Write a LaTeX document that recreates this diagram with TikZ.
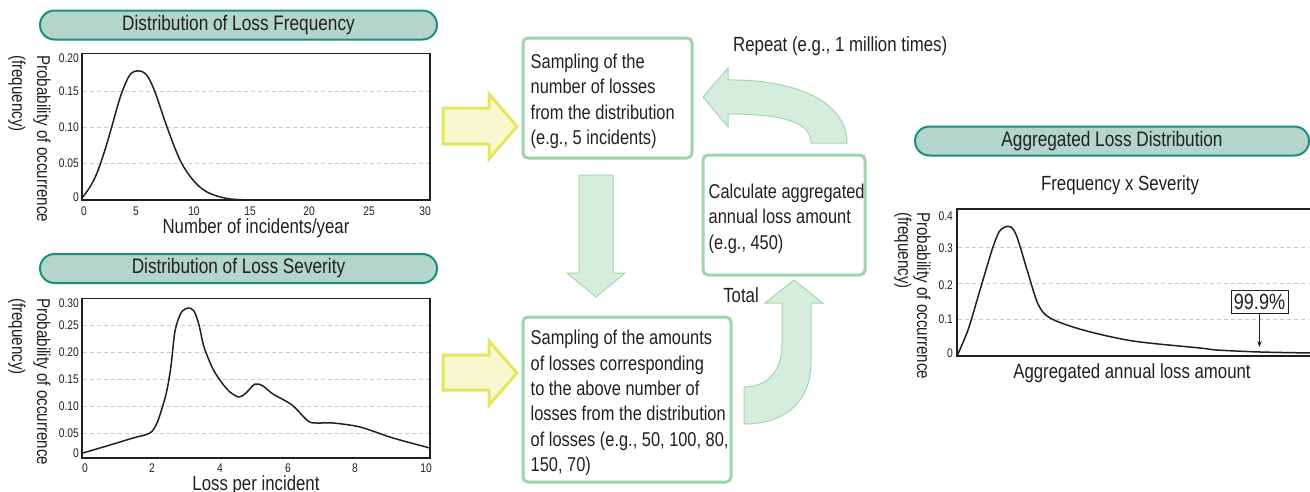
\documentclass[tikz,border=0pt]{standalone}
\usepackage{fontspec}
\setmainfont{Liberation Sans}[FakeStretch=0.82]
\usetikzlibrary{arrows.meta}

\definecolor{ink}{HTML}{231F20}
\definecolor{pillfill}{HTML}{B4D5C9}
\definecolor{pillline}{HTML}{1A8F7E}
\definecolor{boxline}{HTML}{9DD5AA}
\definecolor{yelline}{HTML}{E6E65E}
\definecolor{yelfill}{HTML}{F7F8CE}
\definecolor{grnfill}{HTML}{D6ECDC}
\definecolor{grnline}{HTML}{A5D7AF}
\definecolor{gridcol}{HTML}{CBCBCB}

\begin{document}
\begin{tikzpicture}[x=1pt,y=-1pt,
  every node/.style={text=ink, inner sep=0pt},
  pill/.style={draw=pillline, fill=pillfill, line width=2pt, rounded corners=14.5pt,
    minimum height=29pt, font=\fontsize{21}{24}\selectfont},
  stepbox/.style={draw=boxline, line width=3pt, rounded corners=5pt},
  steptext/.style={anchor=west, align=left, yshift=-3.5pt, font=\fontsize{20}{25.4}\selectfont},
  label/.style={font=\fontsize{20.5}{24}\selectfont},
  ylab/.style={rotate=-90, anchor=west, font=\fontsize{18.5}{22}\selectfont},
  tick/.style={font=\fontsize{12.5}{14}\selectfont},
  ytick/.style={tick, anchor=east},
  frame/.style={draw=ink, line width=1.2pt},
  grid/.style={draw=gridcol, line width=0.8pt, dash pattern=on 4pt off 3pt},
  curve/.style={draw=ink, line width=1.5pt, line join=round},
  yarrow/.style={draw=yelline, fill=yelfill, line width=3pt, line join=miter},
  garrow/.style={draw=grnline, fill=grnfill, line width=1pt, line join=miter}
]
\useasboundingbox (0,0) rectangle (1310,491);

% ---------- frequency distribution ----------
\node[pill, minimum width=397pt] (tfreq) at (238.5,25) {Distribution of Loss Frequency};
\foreach \g in {91,127,163} \draw[grid] (83,\g) -- (429,\g);
\draw[frame] (82,53.5) rectangle (430,200);
\draw[curve] plot[smooth, tension=0.55] coordinates {(82,198) (90,187) (97,173) (104,153) (110,133)
  (120,98) (128,78) (134,71.5) (142,71.5) (148,77) (155,92) (167,127) (180,160) (193,180)
  (207,192) (227,198.5) (250,200)} -- (430,200);
\foreach \v/\y in {0.20/58,0.15/91,0.10/127,0.05/163,0/197}
  \node[ytick] (fy\y) at (79,\y) {\v};
\foreach \v/\x in {0/84,5/136,10/194,15/250,20/309,25/369,30/425}
  \node[tick] (fx\v) at (\x,211.5) {\v};
\node[label] (fxl) at (256,228) {Number of incidents/year};
\node[ylab] (fyl) at (42,55) {Probability of occurrence};
\node[ylab] (fyl2) at (17,55) {(frequency)};

% ---------- severity distribution ----------
\node[pill, minimum width=397pt] (tsev) at (238.5,268.5) {Distribution of Loss Severity};
\foreach \g in {325,352,379,406,433} \draw[grid] (83,\g) -- (429,\g);
\draw[frame] (82,298.5) rectangle (430,458);
\draw[curve] plot[smooth, tension=0.5] coordinates {(83,453) (110,445) (133,438) (150,433)
  (157,423) (163,405) (167,390) (171,366) (175,331) (181,313) (188,308) (194,311) (199,325)
  (204,347) (213,369) (222,383) (230,392) (239,397) (246,393) (255,384) (263,386) (273,394)
  (292,405) (308,421) (317,423) (333,423) (360,427) (393,438) (430,448)};
\foreach \v/\y in {0.30/303,0.25/325,0.20/352,0.15/379,0.10/406,0.05/433,0/453}
  \node[ytick] (sy\y) at (79,\y) {\v};
\foreach \v/\x in {0/85,2/152,4/220,6/288,8/355,10/426}
  \node[tick] (sx\v) at (\x,468) {\v};
\node[label, anchor=base] (sxl) at (256,490) {Loss per incident};
\node[ylab] (syl) at (42,298) {Probability of occurrence};
\node[ylab] (syl2) at (17,298) {(frequency)};

% ---------- simulation steps ----------
\node[stepbox, minimum width=169pt, minimum height=120pt] (s1) at (607.5,98) {};
\node[steptext] (s1t) at ([xshift=9pt]s1.west) {Sampling of the\\number of losses\\from the distribution\\(e.g., 5 incidents)};
\node[stepbox, minimum width=162pt, minimum height=120pt] (s2) at (784,215) {};
\node[steptext] (s2t) at ([xshift=7pt]s2.west) {Calculate aggregated\\annual loss amount\\(e.g., 450)};
\node[stepbox, minimum width=208pt, minimum height=165pt] (s3) at (627,399.5) {};
\node[steptext] (s3t) at ([xshift=9pt]s3.west) {Sampling of the amounts\\of losses corresponding\\to the above number of\\losses from the distribution\\of losses (e.g., 50, 100, 80,\\150, 70)};

% block arrows from the distributions into the steps
\draw[yarrow] (443,108) -- (489,108) -- (489,94) -- (517,126.5) -- (489,159) -- (489,144) -- (443,144) -- cycle;
\draw[yarrow] (443,355) -- (489,355) -- (489,341) -- (517,373) -- (489,405) -- (489,390) -- (443,390) -- cycle;

% number of losses -> amounts
\draw[garrow] (579,175) -- (613,175) -- (613,273) -- (625,273) -- (596,297) -- (567,273) -- (579,273) -- cycle;

% amounts -> total
\draw[garrow] (794,280) -- (823,303) -- (811,303) -- (811,362)
  .. controls (811,402) and (785,424) .. (744,424) -- (744,387)
  .. controls (766,387) and (782,372) .. (782,345) -- (782,303) -- (765,303) -- cycle;
\node[label] (total) at (741,295) {Total};

% repeat loop
\draw[garrow] (703,97) -- (728,68) -- (728,80) .. controls (792,79) and (847,100) .. (847,143)
  -- (811,143) .. controls (811,124) and (788,114) .. (728,114) -- (728,127) -- cycle;
\node[label, anchor=west] (repeat) at (733,46) {Repeat (e.g., 1 million times)};

% ---------- aggregated distribution ----------
\node[pill, minimum width=394pt] (tagg) at (1112,141) {Aggregated Loss Distribution};
\node[label] (fxs) at (1120,185) {Frequency x Severity};
\foreach \g in {247,283,319} \draw[grid] (958,\g) -- (1309,\g);
\draw[frame] (1314,209) -- (957,209) -- (957,356) -- (1314,356);
\draw[curve] plot[smooth, tension=0.5] coordinates {(957,356) (968,330) (980,290) (992,250)
  (999,232) (1005,227) (1011,227) (1017,237) (1028,273) (1038,304) (1050,318) (1083,330)
  (1133,341) (1200,348) (1217,350) (1260,352) (1312,353)};
\foreach \v/\y in {0.4/216,0.3/248,0.2/285,0.1/319,0/353}
  \node[ytick] (ay\y) at (953,\y) {\v};
\node[label] (axl) at (1132,373) {Aggregated annual loss amount};
\node[ylab] (ayl) at (922,212) {Probability of occurrence};
\node[ylab] (ayl2) at (903,212) {(frequency)};
\node[draw=ink, fill=white, line width=1pt, minimum width=57pt, minimum height=23pt,
  font=\fontsize{22}{24}\selectfont] (p999) at (1259.5,301.5) {99.9\%};
\coordinate (q999) at (1259.5,347);
\draw[ink, line width=0.8pt, -{Stealth[length=6pt,width=4.5pt]}] (p999.south) -- (q999);
\end{tikzpicture}
\end{document}
